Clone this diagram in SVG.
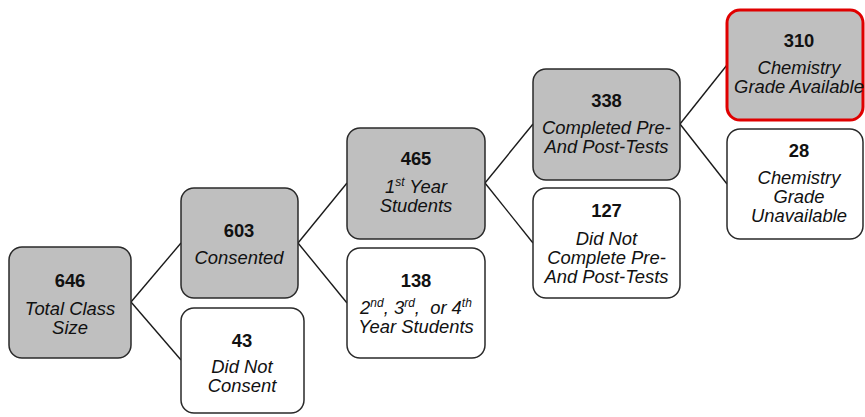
<svg xmlns="http://www.w3.org/2000/svg" width="865" height="417" viewBox="0 0 865 417">
<style>
.box{stroke:#2a2a2a;stroke-width:1.5}
.g{fill:#bfbfbf}
.w{fill:#ffffff}
.red{fill:#bfbfbf;stroke:#e00000;stroke-width:3}
text{font-family:"Liberation Sans",Arial,sans-serif;font-size:18.4px;fill:#111;text-anchor:middle}
.n{font-weight:bold}
.l{font-style:italic}
.sup{font-size:12px}
.conn line{stroke:#1a1a1a;stroke-width:1.4}
</style>
<rect width="865" height="417" fill="#ffffff"/>
<g class="conn">
<line x1="131" y1="302" x2="181" y2="243"/>
<line x1="131" y1="302" x2="181" y2="360"/>
<line x1="298" y1="243" x2="347" y2="183"/>
<line x1="298" y1="243" x2="347" y2="303"/>
<line x1="485" y1="183" x2="533" y2="124"/>
<line x1="485" y1="183" x2="533" y2="243"/>
<line x1="680" y1="124" x2="727" y2="65"/>
<line x1="680" y1="124" x2="727" y2="184"/>
</g>
<g id="n646">
<rect class="box g" x="9" y="247" width="122" height="111" rx="13"/>
<text class="n" x="70" y="287">646</text>
<text class="l" x="70" y="315">Total Class</text>
<text class="l" x="70" y="334">Size</text>
</g>
<g id="n603">
<rect class="box g" x="181" y="188" width="117" height="110" rx="13"/>
<text class="n" x="239" y="237">603</text>
<text class="l" x="239" y="264">Consented</text>
</g>
<g id="n43">
<rect class="box w" x="181" y="308" width="123" height="105" rx="13"/>
<text class="n" x="242" y="347">43</text>
<text class="l" x="242" y="373">Did Not</text>
<text class="l" x="242" y="392">Consent</text>
</g>
<g id="n465">
<rect class="box g" x="347" y="128" width="138" height="111" rx="13"/>
<text class="n" x="416" y="165">465</text>
<text class="l" x="416" y="193">1<tspan class="sup" baseline-shift="7">st</tspan> Year</text>
<text class="l" x="416" y="212">Students</text>
</g>
<g id="n138">
<rect class="box w" x="347" y="248" width="138" height="110" rx="13"/>
<text class="n" x="416" y="287">138</text>
<text class="l" x="416" y="314">2<tspan class="sup" baseline-shift="7">nd</tspan>, 3<tspan class="sup" baseline-shift="7">rd</tspan>,&#160; or 4<tspan class="sup" baseline-shift="7">th</tspan></text>
<text class="l" x="416" y="333">Year Students</text>
</g>
<g id="n338">
<rect class="box g" x="533" y="69" width="147" height="111" rx="13"/>
<text class="n" x="606.5" y="107">338</text>
<text class="l" x="606.5" y="134">Completed Pre-</text>
<text class="l" x="606.5" y="153">And Post-Tests</text>
</g>
<g id="n127">
<rect class="box w" x="533" y="188" width="147" height="110" rx="13"/>
<text class="n" x="606.5" y="217">127</text>
<text class="l" x="606.5" y="245">Did Not</text>
<text class="l" x="606.5" y="264">Complete Pre-</text>
<text class="l" x="606.5" y="283">And Post-Tests</text>
</g>
<g id="n310">
<rect class="red" x="727" y="10" width="136" height="110" rx="13"/>
<text class="n" x="799" y="47">310</text>
<text class="l" x="799" y="74">Chemistry</text>
<text class="l" x="799" y="93">Grade Available</text>
</g>
<g id="n28">
<rect class="box w" x="727" y="129" width="136" height="110" rx="13"/>
<text class="n" x="799" y="157">28</text>
<text class="l" x="799" y="184">Chemistry</text>
<text class="l" x="799" y="203">Grade</text>
<text class="l" x="799" y="222">Unavailable</text>
</g>
</svg>
